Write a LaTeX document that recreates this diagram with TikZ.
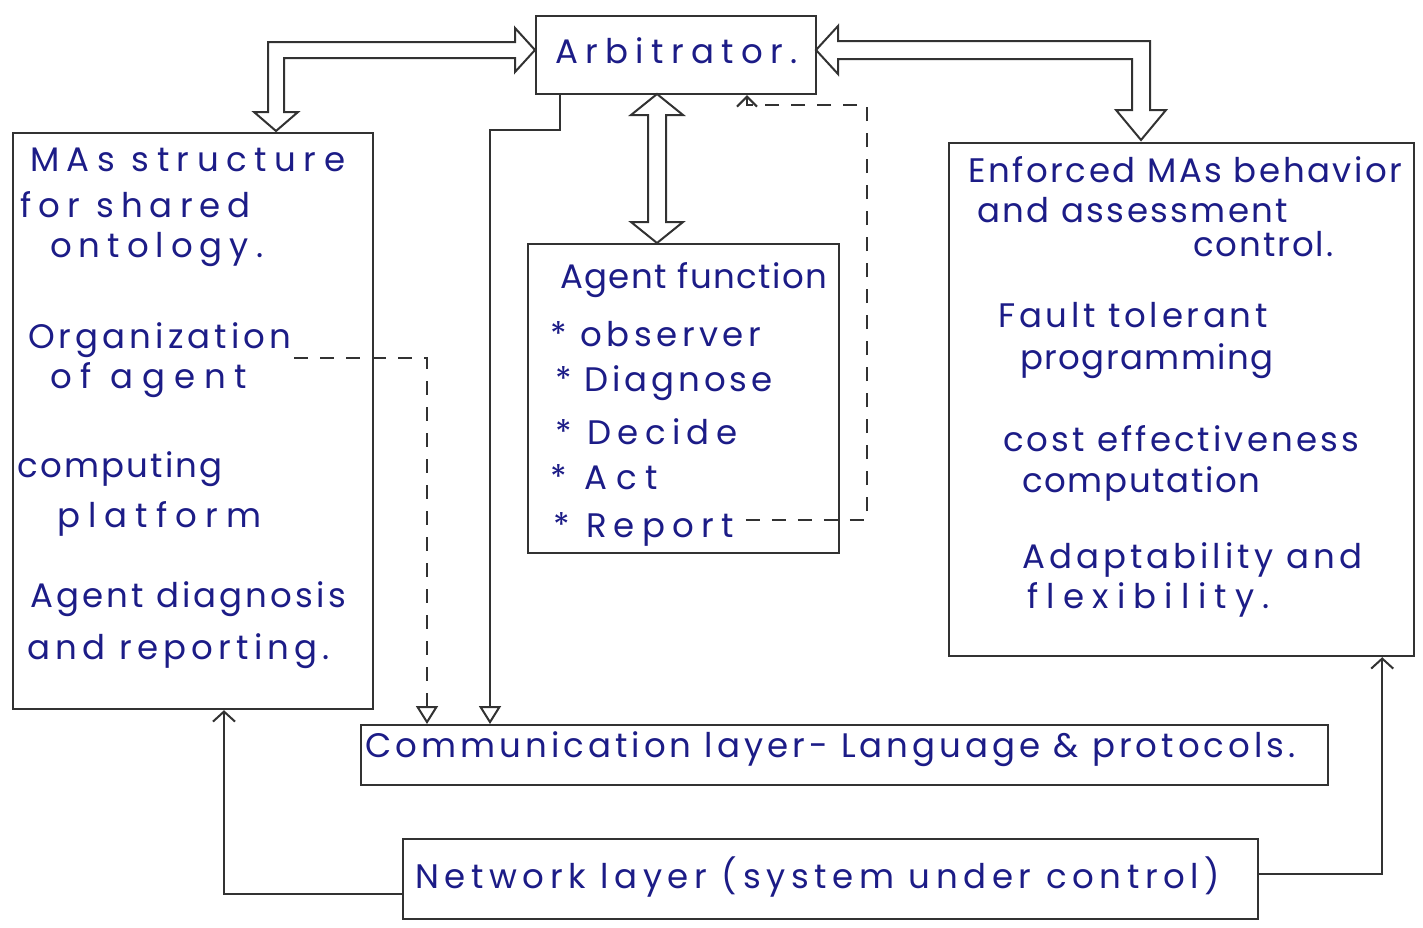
\documentclass[tikz,border=0pt]{standalone}
\usepackage{fontspec}
\setmainfont{Poppins}
\usetikzlibrary{arrows.meta,calc}
\definecolor{ink}{RGB}{28,28,135}
\definecolor{pen}{RGB}{50,50,50}
\ExplSyntaxOn
\cs_new:Npn \nch #1 { \str_count:n {#1} }
\ExplSyntaxOff
% #1 target width (pt), #2 text; font size 34pt
\newcommand\fitw[2]{%
  \setbox0\hbox{#2}%
  \edef\wnat{\the\wd0}%
  \pgfmathsetmacro\lsv{max(-8,min(90,((#1)-\wnat)/(\nch{#2})/34*100))}%
  {\addfontfeatures{LetterSpace=\lsv}#2}}
\begin{document}
\begin{tikzpicture}[x=1pt,y=-1pt,
  box/.style={draw=pen, line width=2.2pt, rectangle, inner sep=0pt, anchor=north west},
  txt/.style={text=ink, font=\fontsize{34}{40}\selectfont, anchor=base west, inner sep=0pt},
  arr/.style={draw=pen, line width=2pt, -{Triangle[open, length=18pt, width=22pt]}},
  barb/.style={draw=pen, line width=2pt, -{Straight Barb[length=10pt, width=22pt]}},
  dasharr/.style={draw=pen, line width=2.2pt, dash pattern=on 14pt off 12pt},
  hollow/.style={draw=pen, line width=2pt, fill=white, line join=miter}]
\fill[white] (0,0) rectangle (1423,927);
\useasboundingbox (0,0) rectangle (1423,927);

% boxes
\node[box, minimum width=280pt, minimum height=78pt] (arb) at (535,15) {};
\node[box, minimum width=360pt, minimum height=576pt] (mas) at (12,132) {};
\node[box, minimum width=311pt, minimum height=309pt] (agent) at (527,243) {};
\node[box, minimum width=465pt, minimum height=513pt] (enf) at (948,142) {};
\node[box, minimum width=967pt, minimum height=60pt] (comm) at (360,724) {};
\node[box, minimum width=855pt, minimum height=80pt] (net) at (402,838) {};

% texts
\node[txt] (arbt) at (555,63) {\fitw{250}{Arbitrator.}};

\node[txt] (m1) at (30,171) {\fitw{330}{MAs structure}};
\node[txt] (m2) at (20,217) {\fitw{245}{for shared}};
\node[txt] (m3) at (50,257) {\fitw{220}{ontology.}};
\node[txt] (org) at (28,348) {\fitw{267}{Organization}};
\node[txt] (m5) at (50,388) {\fitw{215}{of agent}};
\node[txt] (m6) at (17,477) {\fitw{208}{computing}};
\node[txt] (m7) at (57,527) {\fitw{212}{platform}};
\node[txt] (m8) at (30,607) {\fitw{322}{Agent diagnosis}};
\node[txt] (m9) at (27,659) {\fitw{313}{and reporting.}};

\node[txt] (a0) at (560,288) {\fitw{270}{Agent function}};
\node[txt] (a1) at (550,346) {\fitw{220}{* observer}};
\node[txt] (a2) at (555,391) {\fitw{225}{* Diagnose}};
\node[txt] (a3) at (555,444) {\fitw{195}{* Decide}};
\node[txt] (a4) at (550,489) {\fitw{125}{* Act}};
\node[txt] (rep) at (553,537) {\fitw{195}{* Report}};

\node[txt] (e1) at (968,182) {\fitw{442}{Enforced MAs behavior}};
\node[txt] (e2) at (977,222) {\fitw{316}{and assessment}};
\node[txt] (e3) at (1193,256) {\fitw{142}{control.}};
\node[txt] (e4) at (998,327) {\fitw{277}{Fault tolerant}};
\node[txt] (e5) at (1020,369) {\fitw{255}{programming}};
\node[txt] (e6) at (1003,451) {\fitw{362}{cost effectiveness}};
\node[txt] (e7) at (1022,492) {\fitw{240}{computation}};
\node[txt] (e8) at (1022,568) {\fitw{348}{Adaptability and}};
\node[txt] (e9) at (1027,608) {\fitw{251}{flexibility.}};

\node[txt] (ct) at (365,757) {\fitw{955}{Communication layer- Language \& protocols.}};
\node[txt] (nt) at (415,888) {\fitw{833}{Network layer (system under control)}};

% hollow double arrows
\draw[hollow] (515,42) -- (515,28) -- (535,50) -- (515,72) -- (515,58) -- (284,58)
  -- (284,112) -- (298,112) -- (276,131) -- (254,112) -- (268,112) -- (268,42) -- cycle;
\draw[hollow] (838,41) -- (838,26) -- (816,50) -- (838,74) -- (838,59) -- (1132,59)
  -- (1132,110) -- (1116,110) -- (1141,140) -- (1166,110) -- (1150,110) -- (1150,41) -- cycle;
\draw[hollow] (648,115) -- (631,115) -- (657,94) -- (683,115) -- (666,115) -- (666,222)
  -- (683,222) -- (657,243) -- (631,222) -- (648,222) -- cycle;

% connectors
\draw[arr] ([xshift=25pt]arb.south west) -- ++(0,35) -| ([xshift=130pt]comm.north west);
\draw[dasharr, -{Triangle[open, length=18pt, width=22pt, line width=2pt]}]
  ([xshift=3pt,yshift=-10pt]org.base east) -| ([xshift=67pt]comm.north west);
\coordinate (dc) at (867,105);
\draw[dasharr, -{Straight Barb[length=10pt, width=20pt, line width=2pt]}]
  ([xshift=12pt,yshift=17pt]rep.base east) -| (dc) -| ([xshift=212pt]arb.south west);
\draw[barb] ([yshift=-15pt]net.west) -| ([xshift=212pt]mas.south west);
\draw[barb] ([yshift=5pt]net.east) -| ([xshift=-33pt]enf.south east);
\end{tikzpicture}
\end{document}
